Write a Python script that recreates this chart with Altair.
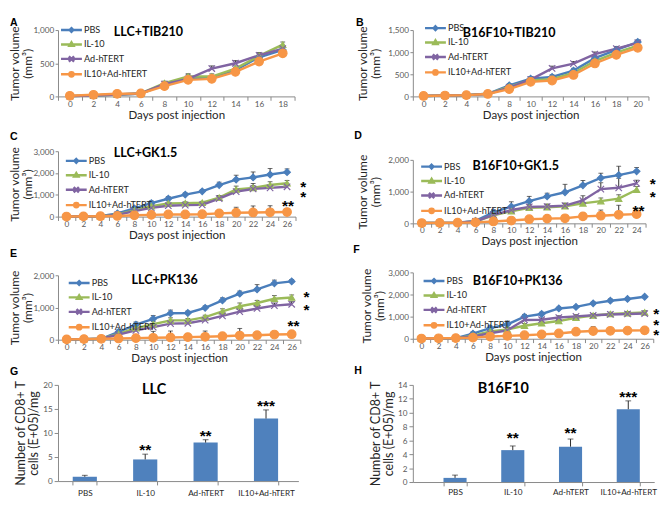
import altair as alt
import pandas as pd

SERIES = ["PBS", "IL-10", "Ad-hTERT", "IL10+Ad-hTERT"]
COLORS = ["#4a7ebb", "#9bbb59", "#8064a2", "#f79646"]
PT_SHAPES = ["diamond", "triangle-up", "M-1,-1L1,1M-1,1L1,-1", "circle"]
PT_SIZES = [48, 42, 45, 80]
LEG_SHAPES = [
    "M-3.1,0L3.1,0M0,-0.55L0.55,0L0,0.55L-0.55,0Z",
    "M-3.1,0L3.1,0M0,-0.64L0.62,0.41L-0.62,0.41Z",
    "M-3.1,0L3.1,0M-0.78,-0.78L0.78,0.78M-0.78,0.78L0.78,-0.78",
    "M-3.1,0L3.1,0M0.64,0A0.64,0.64,0,1,1,-0.64,0A0.64,0.64,0,1,1,0.64,0Z",
]
ERR = "#262626"
BAR = "#4f81bd"
FONT = "Lato"

# ---------------- data ----------------
A_days = [0, 2, 4, 6, 8, 10, 12, 14, 16, 18]
A_vals = [
    [5, 15, 30, 40, 180, 275, 275, 395, 590, 700],
    [5, 15, 30, 45, 200, 300, 300, 420, 610, 780],
    [5, 15, 30, 45, 185, 265, 420, 500, 620, 720],
    [10, 25, 40, 45, 155, 250, 265, 370, 525, 650],
]
A_errs = [
    [20, 30, 30, 50, 30, 60, 40, 40, 40, 40],
    [20, 20, 20, 40, 30, 40, 40, 40, 40, 40],
    [20, 20, 20, 40, 30, 40, 40, 40, 40, 40],
    [20, 20, 20, 40, 30, 40, 40, 40, 40, 40],
]

B_days = [0, 2, 4, 6, 8, 10, 12, 14, 16, 18, 20]
B_vals = [
    [10, 20, 30, 60, 250, 400, 440, 585, 865, 1050, 1230],
    [10, 20, 30, 60, 220, 360, 390, 530, 800, 990, 1150],
    [10, 20, 30, 55, 200, 380, 635, 740, 955, 1080, 1210],
    [10, 20, 30, 55, 165, 330, 360, 485, 745, 940, 1100],
]
B_errs = [
    [20, 20, 30, 30, 40, 50, 50, 50, 50, 60, 50],
    [20, 20, 30, 30, 40, 50, 50, 50, 50, 50, 50],
    [20, 20, 30, 30, 40, 50, 50, 50, 50, 50, 50],
    [20, 20, 30, 30, 40, 50, 50, 50, 50, 50, 50],
]

C_days = [0, 2, 4, 6, 8, 10, 12, 14, 16, 18, 20, 22, 24, 26]
C_vals = [
    [5, 10, 20, 150, 380, 620, 820, 1010, 1160, 1450, 1700, 1800, 1930, 2040],
    [5, 10, 20, 100, 280, 480, 600, 620, 640, 870, 1250, 1320, 1450, 1530],
    [5, 10, 20, 80, 250, 400, 500, 530, 540, 830, 1150, 1270, 1320, 1370],
    [5, 10, 20, 30, 60, 80, 100, 100, 110, 150, 180, 190, 200, 210],
]
C_errs = [
    [20, 30, 40, 60, 80, 100, 100, 80, 80, 130, 200, 250, 280, 150],
    [20, 20, 20, 40, 60, 60, 60, 60, 60, 100, 150, 200, 150, 130],
    [20, 20, 20, 40, 60, 60, 60, 60, 60, 100, 120, 150, 120, 100],
    [20, 40, 40, 60, 60, 60, 80, 80, 80, 100, 250, 300, 300, 100],
]

D_days = [0, 2, 4, 6, 8, 10, 12, 14, 16, 18, 20, 22, 24]
D_vals = [
    [10, 15, 20, 80, 350, 530, 700, 850, 980, 1200, 1430, 1520, 1640],
    [10, 15, 20, 60, 250, 380, 490, 510, 540, 630, 700, 780, 1060],
    [10, 15, 20, 60, 270, 420, 520, 530, 560, 720, 1080, 1120, 1260],
    [10, 15, 20, 30, 60, 90, 130, 150, 160, 220, 240, 270, 290],
]
D_errs = [
    [60, 60, 60, 60, 80, 150, 150, 100, 250, 150, 150, 280, 120],
    [40, 40, 40, 40, 60, 80, 80, 80, 80, 120, 100, 120, 100],
    [40, 40, 40, 40, 60, 80, 80, 80, 80, 150, 200, 300, 100],
    [40, 40, 40, 40, 60, 60, 60, 60, 60, 100, 180, 300, 100],
]

E_days = [0, 2, 4, 6, 8, 10, 12, 14, 16, 18, 20, 22, 24, 26]
E_vals = [
    [10, 20, 30, 240, 470, 650, 820, 830, 990, 1220, 1430, 1560, 1750, 1810],
    [10, 20, 30, 180, 360, 480, 600, 600, 700, 880, 1040, 1140, 1270, 1310],
    [10, 20, 30, 160, 290, 390, 500, 510, 610, 740, 870, 970, 1060, 1100],
    [10, 20, 30, 40, 50, 60, 70, 80, 90, 110, 130, 140, 160, 170],
]
E_errs = [
    [60, 60, 60, 60, 80, 100, 100, 60, 60, 80, 80, 150, 100, 60],
    [40, 40, 40, 40, 60, 80, 80, 60, 60, 80, 100, 80, 100, 80],
    [40, 40, 40, 40, 60, 80, 80, 60, 60, 80, 100, 80, 80, 80],
    [60, 60, 60, 60, 60, 200, 200, 100, 180, 100, 220, 100, 100, 100],
]

F_days = [0, 2, 4, 6, 8, 10, 12, 14, 16, 18, 20, 22, 24, 26]
F_vals = [
    [10, 20, 30, 230, 480, 650, 1000, 1120, 1370, 1440, 1600, 1720, 1800, 1900],
    [10, 20, 30, 140, 330, 420, 590, 700, 800, 950, 1050, 1120, 1150, 1190],
    [10, 20, 30, 100, 250, 380, 850, 860, 960, 1010, 1060, 1100, 1120, 1140],
    [10, 20, 30, 50, 100, 130, 160, 200, 240, 320, 350, 360, 370, 380],
]
F_errs = [
    [60, 60, 60, 80, 100, 150, 100, 80, 60, 60, 60, 80, 60, 60],
    [40, 40, 40, 60, 80, 100, 100, 80, 80, 80, 80, 80, 80, 80],
    [40, 40, 40, 60, 80, 100, 80, 80, 80, 80, 80, 80, 80, 80],
    [60, 60, 60, 60, 60, 60, 60, 80, 80, 80, 200, 100, 100, 100],
]

CATS = ["PBS", "IL-10", "Ad-hTERT", "IL10+Ad-hTERT"]
G_vals = [0.9, 4.5, 8.0, 13.0]
G_errs = [0.3, 1.1, 0.6, 1.8]
G_stars = ["", "**", "**", "***"]
G_star_y = [0, 7.2, 10.2, 16.4]
H_vals = [0.6, 4.6, 5.1, 10.5]
H_errs = [0.4, 0.6, 1.1, 1.2]
H_stars = ["", "**", "**", "***"]
H_star_y = [0, 6.9, 7.6, 12.75]

C_star_day = [27.9, 27.9, 26.1]
C_star_val = [1544, 1059, 662]
C_star_txt = ["*", "*", "**"]
D_star_day = [25.8, 25.8, 24.2]
D_star_val = [1364, 940, 515]
D_star_txt = ["*", "*", "**"]
E_star_day = [27.7, 27.7, 26.2]
E_star_val = [1433, 1045, 537]
E_star_txt = ["*", "*", "**"]
F_star_day = [27.35, 27.35, 27.35]
F_star_val = [1304, 783, 348]
F_star_txt = ["*", "*", "*"]


def long_df(days, vals, errs):
    rows = []
    for s, v, e, sz in zip(SERIES, vals, errs, PT_SIZES):
        for d, y, er in zip(days, v, e):
            rows.append(dict(Day=d, Series=s, Value=y, Upper=y + er, Sz=sz))
    return pd.DataFrame(rows)


def text_layer(txt, x, y, size, font, weight, align, baseline):
    return alt.Chart(pd.DataFrame({"t": [txt]})).mark_text(
        font=font, fontSize=size, fontWeight=weight, align=align,
        baseline=baseline, color="#000000"
    ).encode(text="t:N", x=alt.value(x), y=alt.value(y))


def line_panel(letter, name, days, vals, errs, ymax, ystep, w, h,
               letter_xy, title_xy, legend_xy, sdays, svals, stxt,
               ytitle_pad=-2):
    df = long_df(days, vals, errs)
    xmax = days[-1] + 1
    xscale = alt.Scale(domain=[-1, xmax], nice=False, zero=False)
    yscale = alt.Scale(domain=[0, ymax], nice=False)
    cscale = alt.Scale(domain=SERIES, range=COLORS)
    even = list(range(0, days[-1] + 1, 2))
    odd = list(range(-1, xmax + 1, 2))
    main_x = alt.Axis(orient="bottom", values=even, ticks=False, tickSize=0, domain=True,
                      title="Days post injection", titleFontSize=12,
                      titlePadding=2, labelPadding=3, grid=False)
    tick_x = alt.Axis(orient="bottom", values=odd, labels=False, domain=False,
                      ticks=True, tickSize=4, title=None, grid=False)
    ytitle = ["Tumor volume", "(mm³)"]
    y_axis = alt.Axis(values=list(range(0, ymax + 1, ystep)),
                      labelExpr="format(datum.value, ',')",
                      title=ytitle, titleFontSize=12.5,
                      titleLineHeight=13.5, titlePadding=ytitle_pad,
                      tickSize=3, labelPadding=1.5, grid=False)
    Y = lambda f: alt.Y(f, scale=yscale, axis=y_axis, title=ytitle)
    base = alt.Chart(df)
    rule = base.mark_rule(color=ERR, strokeWidth=1).encode(
        x=alt.X("Day:Q", scale=xscale, axis=main_x),
        y=Y("Value:Q"),
        y2="Upper:Q",
    )
    cap = base.mark_tick(color=ERR, thickness=1, size=5, orient="horizontal").encode(
        x=alt.X("Day:Q", scale=xscale, axis=tick_x),
        y=Y("Upper:Q"),
    )
    line = base.mark_line(strokeWidth=2.5).encode(
        x=alt.X("Day:Q", scale=xscale, axis=None),
        y=Y("Value:Q"),
        color=alt.Color("Series:N", scale=cscale, legend=None),
        detail="Series:N",
    )
    pts = base.mark_point(filled=True, opacity=1, strokeWidth=1.2).encode(
        x=alt.X("Day:Q", scale=xscale, axis=None),
        y=Y("Value:Q"),
        fill=alt.Fill("Series:N", scale=cscale, legend=None),
        stroke=alt.Stroke("Series:N", scale=cscale, legend=None),
        shape=alt.Shape("Series:N", scale=alt.Scale(domain=SERIES, range=PT_SHAPES), legend=None),
        size=alt.Size("Sz:Q", scale=None),
    )
    lg = alt.Legend(orient="none", legendX=legend_xy[0] - 5, legendY=legend_xy[1],
                    title=None, symbolSize=49, symbolStrokeWidth=2.5,
                    labelFont=FONT, labelFontSize=9.5, labelColor="#262626",
                    labelOffset=8, rowPadding=0, padding=0)
    leg = base.transform_filter("false").mark_point(filled=False, opacity=1, strokeWidth=2.5).encode(
        x=alt.X("Day:Q", scale=xscale, axis=None),
        y=Y("Value:Q"),
        color=alt.Color("Series:N", scale=cscale, legend=lg),
        shape=alt.Shape("Series:N", scale=alt.Scale(domain=SERIES, range=LEG_SHAPES), legend=lg),
    )
    sdf = pd.DataFrame({"Day": sdays, "Value": svals, "Txt": stxt})
    stars = alt.Chart(sdf).mark_text(font="Liberation Sans", fontSize=16,
                                     fontWeight="bold", dy=4, color="#000000").encode(
        x=alt.X("Day:Q", scale=xscale, axis=None),
        y=Y("Value:Q"),
        text="Txt:N",
    )
    ttl = text_layer(name, title_xy[0], title_xy[1], 13, FONT, "bold", "center", "middle")
    let = text_layer(letter, letter_xy[0], letter_xy[1], 11, "Liberation Sans", "bold", "left", "top")
    return alt.layer(rule, cap, line, pts, leg, stars, ttl, let).resolve_scale(
        color="independent", fill="independent", stroke="independent",
        shape="independent"
    ).resolve_axis(x="independent").properties(width=w, height=h)


def bar_panel(letter, name, vals, errs, star_y, stars, ymax, ystep, w, h,
              letter_xy, title_xy, pad_outer, band_align, ytitle_pad=2, lab_pad=4):
    df = pd.DataFrame({"Cat": CATS, "Value": vals,
                       "Upper": [v + e for v, e in zip(vals, errs)],
                       "StarY": star_y, "Star": stars})
    xs = alt.Scale(domain=CATS, paddingInner=0.6, paddingOuter=pad_outer, align=band_align)
    yscale = alt.Scale(domain=[0, ymax], nice=False)
    x_axis = alt.Axis(title=None, labelAngle=0, tickBand="extent", tickSize=4,
                      labelFontSize=8.5, labelColor="#262626", labelPadding=lab_pad)
    ytitle = ["Number of CD8+ T", "cells (E+05)/mg"]
    y_axis = alt.Axis(values=list(range(0, ymax + 1, ystep)),
                      title=ytitle, titleFontSize=13,
                      titleLineHeight=14, titlePadding=ytitle_pad, tickSize=4,
                      labelPadding=2, grid=False)
    X = alt.X("Cat:N", scale=xs, sort=CATS, axis=x_axis, title=None)
    Y = lambda f: alt.Y(f, scale=yscale, axis=y_axis, title=ytitle)
    base = alt.Chart(df)
    bars = base.mark_bar(color=BAR).encode(x=X, y=Y("Value:Q"))
    rule = base.mark_rule(color=ERR, strokeWidth=1).encode(
        x=X, y=Y("Value:Q"), y2="Upper:Q")
    cap = base.mark_tick(color=ERR, thickness=1, size=6, orient="horizontal").encode(
        x=X, y=Y("Upper:Q"))
    st = base.mark_text(font="Liberation Sans", fontSize=16, fontWeight="bold",
                        dy=4, color="#000000").encode(
        x=X, y=Y("StarY:Q"), text="Star:N")
    ttl = text_layer(name, title_xy[0], title_xy[1], 15, FONT, "bold", "center", "middle")
    let = text_layer(letter, letter_xy[0], letter_xy[1], 11, "Liberation Sans", "bold", "left", "top")
    return alt.layer(bars, rule, cap, st, ttl, let).properties(width=w, height=h)


pA = line_panel("A", "LLC+TIB210", A_days, A_vals, A_errs, 1000, 500, 246, 69,
                (-50, -13), (94, 2), (14, -5), [], [], [])
pC = line_panel("C", "LLC+GK1.5", C_days, C_vals, C_errs, 3000, 1000, 247, 68,
                (-50, -21), (91, 2), (19, 5), C_star_day, C_star_val, C_star_txt)
pE = line_panel("E", "LLC+PK136", E_days, E_vals, E_errs, 2000, 1000, 252, 67,
                (-50, -28), (111, 5), (22, 3), E_star_day, E_star_val, E_star_txt)
pG = bar_panel("G", "LLC", G_vals, G_errs, G_star_y, G_stars, 20, 5, 250, 100,
               (-50, -19), (100, 4), 0.29, 0.42)

pB = line_panel("B", "B16F10+TIB210", B_days, B_vals, B_errs, 1500, 500, 245, 69,
                (-59, -13), (100, 3), (23.5, -7), [], [], [], ytitle_pad=6)
pD = line_panel("D", "B16F10+GK1.5", D_days, D_vals, D_errs, 2000, 1000, 242, 66,
                (-61, -31), (107, 7), (19.5, 2), D_star_day, D_star_val, D_star_txt,
                ytitle_pad=6)
pF = line_panel("F", "B16F10+PK136", F_days, F_vals, F_errs, 3000, 1000, 250, 69,
                (-62, -29), (109, 9), (22, 4), F_star_day, F_star_val, F_star_txt,
                ytitle_pad=1)
pH = bar_panel("H", "B16F10", H_vals, H_errs, H_star_y, H_stars, 14, 2, 251, 101,
               (-61, -20), (94, 3), 0.39, 0.68, lab_pad=2)

col1 = alt.vconcat(alt.vconcat(pA, pC, spacing=11), alt.vconcat(pE, pG, spacing=3), spacing=8)
col2 = alt.vconcat(alt.vconcat(pB, pD, spacing=10), alt.vconcat(pF, pH, spacing=3), spacing=-3)

chart = alt.hconcat(col1, col2, spacing=45).properties(
    padding={"left": 1, "top": 0, "right": 0, "bottom": 0}
).configure_view(stroke=None).configure_axis(
    labelFont=FONT, labelFontSize=8.5, labelColor="#595959",
    domainColor="#868686", tickColor="#868686", titleFont=FONT,
    titleColor="#262626", titleFontWeight="normal", grid=False
)

chart.save("out.html", embed_options={"renderer": "svg", "actions": False})
